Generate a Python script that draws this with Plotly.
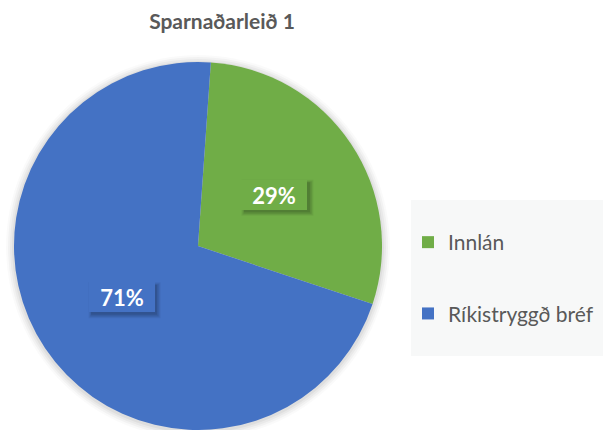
import math
import plotly.graph_objects as go

# Portfolio composition
labels = ["Innlán", "Ríkistryggð bréf"]
shares = [29, 71]
colors = ["#70AD47", "#4472C4"]

W, H = 603, 430
FONT = "Lato"
GRAY = "#595959"
ROTATION = 4

# Pie placement (pixels): a square domain holding the circle
PIE_LEFT, PIE_RIGHT, PIE_TOP = 14, 382, 62
R = (PIE_RIGHT - PIE_LEFT) / 2
CX, CY = (PIE_LEFT + PIE_RIGHT) / 2, PIE_TOP + R

# Label box size (pixels)
BOX_W, BOX_H = 66, 30


def px_x(v):
    return v / W


def px_y(v):
    return 1 - v / H


fig = go.Figure()

fig.add_trace(go.Pie(
    labels=labels,
    values=shares,
    sort=False,
    direction="clockwise",
    rotation=ROTATION,
    marker=dict(colors=colors, line=dict(width=0)),
    textinfo="none",
    domain=dict(x=[px_x(PIE_LEFT), px_x(PIE_RIGHT)], y=[px_y(PIE_TOP + 2 * R), px_y(PIE_TOP)]),
    showlegend=False,
    hoverinfo="label+percent",
))

# Soft halo around the pie
shapes = []
for grow, alpha in [(8, 0.02), (6, 0.03), (4, 0.035), (2, 0.045)]:
    rr = R + grow
    shapes.append(dict(
        type="circle", xref="paper", yref="paper",
        x0=px_x(CX - rr), x1=px_x(CX + rr),
        y0=px_y(CY + rr + 1), y1=px_y(CY - rr + 1),
        fillcolor=f"rgba(0,0,0,{alpha})", line=dict(width=0), layer="below",
    ))

# Legend background panel
shapes.append(dict(
    type="rect", xref="paper", yref="paper",
    x0=px_x(411), x1=1, y0=px_y(356), y1=px_y(200),
    fillcolor="#F7F8F8", line=dict(width=0), layer="below",
))

# Percentage labels in boxes with a soft drop shadow, halfway out along each slice
annotations = []
total = sum(shares)
start = ROTATION
for val, col in zip(shares, colors):
    sweep = val / total * 360
    mid = math.radians(start + sweep / 2)
    start += sweep
    lx = CX + 0.5 * R * math.sin(mid)
    ly = CY - 0.5 * R * math.cos(mid)
    for off, spread, a in [(3, 3, 0.05), (3, 2, 0.06), (3, 1, 0.08), (2.5, 0, 0.10)]:
        shapes.append(dict(
            type="rect", xref="paper", yref="paper", layer="above",
            x0=px_x(lx - BOX_W / 2 + off - spread), x1=px_x(lx + BOX_W / 2 + off + spread),
            y0=px_y(ly + BOX_H / 2 + off + spread), y1=px_y(ly - BOX_H / 2 + off - spread),
            fillcolor=f"rgba(0,0,0,{a})", line=dict(width=0),
        ))
    annotations.append(dict(
        text=f"<b>{val}%</b>", font=dict(family=FONT, size=22, color="white"),
        x=px_x(lx), y=px_y(ly), xref="paper", yref="paper",
        xanchor="center", yanchor="middle", showarrow=False,
        width=BOX_W - 4, height=BOX_H - 4, borderpad=2, borderwidth=0, bgcolor=col,
    ))

# Legend entries as square markers, one group each so they can be spaced out
for lab, col in zip(labels, colors):
    fig.add_trace(go.Scatter(
        x=[None], y=[None], mode="markers", name=lab, legendgroup=lab,
        marker=dict(symbol="square", size=12, color=col),
    ))

fig.update_layout(
    width=W, height=H,
    margin=dict(l=0, r=0, t=0, b=0),
    paper_bgcolor="white",
    plot_bgcolor="rgba(0,0,0,0)",
    xaxis=dict(visible=False),
    yaxis=dict(visible=False),
    title=dict(
        text="<b>Sparnaðarleið 1</b>",
        x=px_x(222), xanchor="center",
        y=px_y(22), yanchor="middle",
        font=dict(family=FONT, size=21, color=GRAY),
    ),
    legend=dict(
        x=px_x(408), xanchor="left",
        y=px_y(222), yanchor="top",
        bgcolor="rgba(0,0,0,0)",
        font=dict(family=FONT, size=21, color=GRAY),
        tracegroupgap=41,
        itemwidth=30,
    ),
    shapes=shapes,
    annotations=annotations,
)

fig.write_html("out.html")
